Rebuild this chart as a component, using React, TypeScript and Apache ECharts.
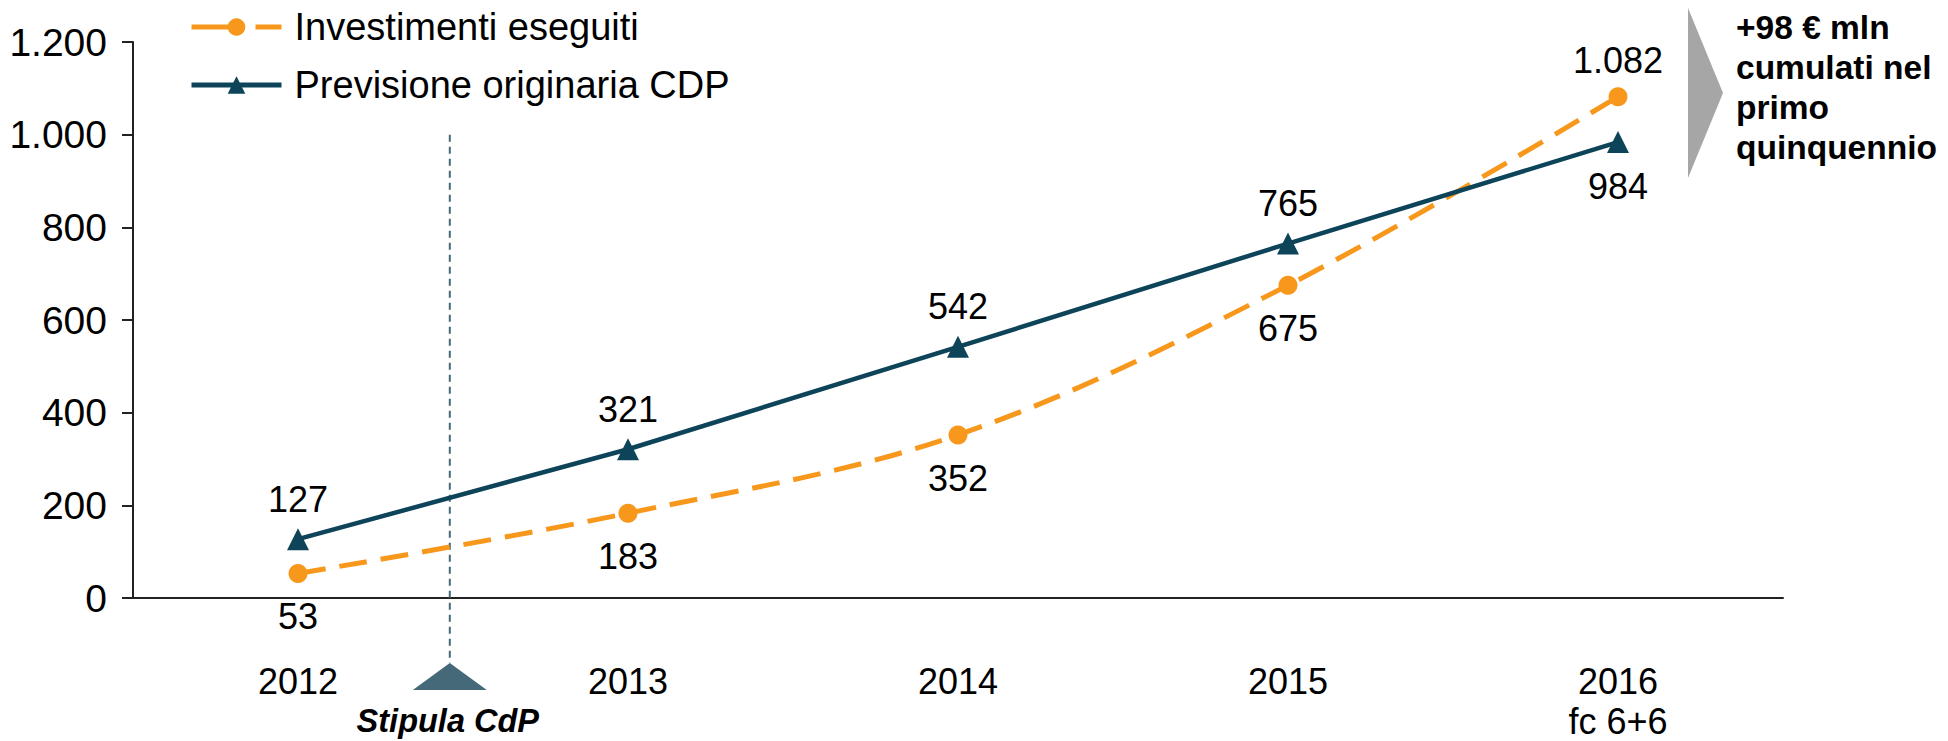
import React, { useEffect, useRef } from "react";
import * as echarts from "echarts";

const categories = ["2012", "2013", "2014", "2015", "2016\nfc 6+6"];
const investimentiEseguiti = [53, 183, 352, 675, 1082];
const previsioneCDP = [127, 321, 542, 765, 984];
const yTicks = { min: 0, max: 1200, interval: 200 };
const stipulaPosition = 0.46; // position between 2012 and 2013 (category units)
const stipulaLineTop = 1000;
const annotationLines = ["+98 € mln", "cumulati nel", "primo", "quinquennio"];

const FONT = "'Liberation Sans', Arial, sans-serif";
const ORANGE = "#F7981D";
const NAVY = "#0D4459";
const SLATE = "#46697A";

const fmt = (v: number) => String(v).replace(/\B(?=(\d{3})+(?!\d))/g, ".");

export default function App() {
  const ref = useRef<HTMLDivElement>(null);
  useEffect(() => {
    if (!ref.current) return;
    const chart = echarts.init(ref.current, null, { renderer: "svg" });
    const option: any = {
      animation: false,
      backgroundColor: "#fff",
      textStyle: { fontFamily: FONT, color: "#000" },
      grid: { left: 133, right: 165, top: 42, bottom: 141, containLabel: false },
      legend: {
        orient: "vertical",
        left: 184,
        top: 3,
        itemWidth: 90,
        itemHeight: 22,
        itemGap: 20,
        textStyle: { fontFamily: FONT, fontSize: 38, color: "#000", padding: [0, 0, 0, 8] },
        data: [
          {
            name: "Investimenti eseguiti",
            lineStyle: { width: 5, type: [52, 12, 26, 100] },
          },
          {
            name: "Previsione originaria CDP",
            lineStyle: { width: 5 },
          },
        ],
      },
      xAxis: {
        type: "category",
        data: categories,
        boundaryGap: true,
        axisLine: { show: true, lineStyle: { color: "#222", width: 2 } },
        axisTick: { show: false },
        axisLabel: { fontFamily: FONT, fontSize: 36, color: "#000", margin: 63, lineHeight: 40 },
        splitLine: { show: false },
      },
      yAxis: {
        type: "value",
        min: yTicks.min,
        max: yTicks.max,
        interval: yTicks.interval,
        axisLine: { show: true, lineStyle: { color: "#222", width: 2 } },
        axisTick: { show: true, inside: false, length: 11, lineStyle: { color: "#222", width: 2 } },
        axisLabel: { fontFamily: FONT, fontSize: 39, color: "#000", margin: 26, formatter: (v: number) => fmt(v) },
        splitLine: { show: false },
      },
      series: [
        {
          name: "Investimenti eseguiti",
          type: "line",
          smooth: 0.35,
          data: investimentiEseguiti.map((v, i) => {
            const item: any = { value: v };
            if (i === 0) {
              item.label = { backgroundColor: "#fff", padding: [0, 6] };
            }
            if (i === investimentiEseguiti.length - 1) {
              item.label = { position: "top", distance: 9 };
            }
            return item;
          }),
          symbol: "circle",
          symbolSize: 19,
          itemStyle: { color: ORANGE },
          lineStyle: { color: ORANGE, width: 5, type: [28, 14] },
          label: {
            show: true,
            position: "bottom",
            distance: 16,
            fontFamily: FONT,
            fontSize: 36,
            color: "#000",
            formatter: (p: any) => fmt(p.value),
          },
          z: 3,
        },
        {
          name: "Previsione originaria CDP",
          type: "line",
          smooth: false,
          data: previsioneCDP.map((v, i) => {
            const item: any = { value: v };
            if (i === previsioneCDP.length - 1) {
              item.label = { position: "bottom", distance: 15 };
            }
            return item;
          }),
          symbol: "triangle",
          symbolSize: 22,
          itemStyle: { color: NAVY },
          lineStyle: { color: NAVY, width: 4.5 },
          label: {
            show: true,
            position: "top",
            distance: 11,
            fontFamily: FONT,
            fontSize: 36,
            color: "#000",
            formatter: (p: any) => fmt(p.value),
          },
          z: 4,
        },
      ],
    };
    chart.setOption(option);

    const x0 = chart.convertToPixel({ xAxisIndex: 0 }, categories[0]) as number;
    const x1 = chart.convertToPixel({ xAxisIndex: 0 }, categories[1]) as number;
    const xs = x0 + (x1 - x0) * stipulaPosition;
    const yTop = chart.convertToPixel({ yAxisIndex: 0 }, stipulaLineTop) as number;
    const yZero = chart.convertToPixel({ yAxisIndex: 0 }, 0) as number;
    const apexY = yZero + 65;
    const baseY = yZero + 92;
    const xRight = chart.getWidth() - 165;

    chart.setOption({
      graphic: [
        {
          type: "line",
          shape: { x1: xs, y1: yTop, x2: xs, y2: apexY },
          style: { stroke: SLATE, lineWidth: 2, lineDash: [7, 5] },
          z: 1,
        },
        {
          type: "polygon",
          shape: { points: [[xs, apexY], [xs + 37, baseY], [xs - 37, baseY]] },
          style: { fill: SLATE },
        },
        {
          type: "text",
          x: xs - 2,
          y: yZero + 123,
          style: {
            text: "Stipula CdP",
            fontFamily: FONT,
            fontSize: 32.5,
            fontWeight: "bold",
            fontStyle: "italic",
            fill: "#000",
            align: "center",
            verticalAlign: "middle",
          },
        },
        {
          type: "polygon",
          shape: { points: [[xRight - 95, 8], [xRight - 60, 93], [xRight - 95, 178]] },
          style: { fill: "#A6A6A6" },
        },
        {
          type: "text",
          x: xRight - 47,
          y: 7,
          style: {
            text: annotationLines.join("\n"),
            fontFamily: FONT,
            fontSize: 33.5,
            fontWeight: "bold",
            lineHeight: 40,
            fill: "#000",
            align: "left",
            verticalAlign: "top",
          },
        },
      ],
    });

    return () => chart.dispose();
  }, []);
  return (
    <div
      ref={ref}
      style={{ position: "fixed", left: 0, top: 0, width: 1948, height: 741 }}
    />
  );
}
